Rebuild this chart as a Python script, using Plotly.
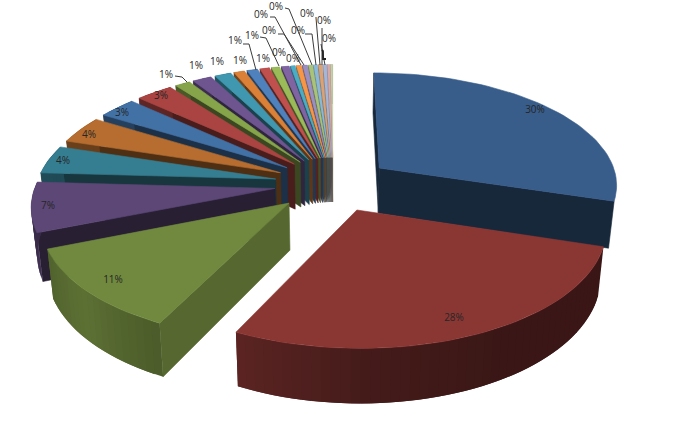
import math
import plotly.graph_objects as go

# ---- data (percent of the whole, clockwise from 12 o'clock) ----
values = [29.9, 27.6, 11.7, 7.0, 4.0, 3.9, 3.0, 2.9, 1.2, 1.5, 1.3, 0.85, 0.85, 0.75,
          0.64, 0.6, 0.35, 0.4, 0.38, 0.32, 0.3, 0.3, 0.28, 0.2, 0.17]
colors = ["#385d8a", "#8a3734", "#71893f", "#5c4776", "#357d91", "#b66d2f",
          "#4271a6", "#a94442", "#86a44a", "#6f5590", "#3f97b0", "#da8137",
          "#4f81bd", "#c0504d", "#9bbb59", "#8064a2", "#4bacc6", "#f79646",
          "#9a8fc0", "#a9c47a", "#8ab8d6", "#d9a277", "#a5b6d6", "#d6a8a6", "#c5cfa8"]
labels = ["30%", "28%", "11%", "7%", "4%", "4%", "3%", "3%", "1%", "1%", "1%", "1%", "1%",
          "1%", "1%", "0%", "0%", "0%", "0%", "0%", "0%", "0%", "0%", "0%", "0%"]

# ---- label layout ----
label_xy = [(535, 110), (454, 318), (113, 280), (48, 206), (63, 161), (89, 135), (122, 113), (161, 96),
            (166, 75), (196, 66), (217, 62), (240, 61), (263, 59), (235, 41), (252, 36),
            (279, 53), (293, 59), (269, 31), (298, 31), (261, 15), (276, 7), (307, 14), (324, 21), (329, 39)]
leaders = [[(175, 76), (182, 77), (187, 82)],
           [(243, 44), (249, 44), (256, 70)],
           [(260, 37), (266, 38), (279, 66)],
           [(278, 34), (284, 34), (304, 65)],
           [(270, 17), (275, 17), (301, 65)],
           [(285, 8), (289, 9), (312, 65)],
           [(305, 34), (312, 34), (316, 65)],
           [(316, 17), (316, 18), (320, 65)],
           [(322, 28), (322, 65)],
           [(321, 44), (325, 65)]]

# ---- projection ----
CX, CY = 333, 184
SX, SY = 239, 112
K = 0.135
EXPLODE = 0.245
DEPTH = 46
CONVERGE = 0.02


def project(U, V, bottom=False):
    w = 1 + K * V
    x = CX + SX * U / w
    y = CY - SY * V / w
    if bottom:
        x = CX + (x - CX) * (1 - CONVERGE)
        y = y + DEPTH / w
    return x, y


def scale(hex_color, f):
    r, g, b = (int(hex_color[i:i + 2], 16) for i in (1, 3, 5))
    return f"rgb({round(r * f)},{round(g * f)},{round(b * f)})"


def arc_shade(deg):
    pts = [(0, .42), (108, .42), (150, .42), (180, .50), (209, .68), (228, .82), (248, .72),
           (262, .62), (360, .5)]
    for (a, fa), (b, fb) in zip(pts, pts[1:]):
        if a <= deg <= b:
            return fa + (fb - fa) * (deg - a) / (b - a)
    return .5


fig = go.Figure()


def poly(points, color, edge=0.6):
    xs = [p[0] for p in points] + [points[0][0]]
    ys = [p[1] for p in points] + [points[0][1]]
    fig.add_trace(go.Scatter(x=xs, y=ys, mode="lines", fill="toself", fillcolor=color,
                             line=dict(color=color, width=edge), hoverinfo="skip", showlegend=False))


total = sum(values)
starts, c = [], 0.0
for v in values:
    starts.append(c)
    c += v


def draw(i):
    a0 = starts[i] / total * 360
    a1 = (starts[i] + values[i]) / total * 360
    mid = math.radians((a0 + a1) / 2)
    ou, ov = EXPLODE * math.sin(mid), EXPLODE * math.cos(mid)
    col = colors[i]

    def pt(deg, r=1.0):
        t = math.radians(deg)
        return ou + r * math.sin(t), ov + r * math.cos(t)

    n = max(2, int((a1 - a0) / 2) + 1)
    angs = [a0 + (a1 - a0) * j / (n - 1) for j in range(n)]
    # radial walls
    wall = 0.76 if i == 2 else 0.43

    def radial(a):
        poly([project(*pt(a, 0)), project(*pt(a)), project(*pt(a), True), project(*pt(a, 0), True)],
             scale(col, wall))

    if i == 0:
        radial(a0)
        radial(a1)
    elif a0 > 125:
        radial(a0)
    # outer wall, in bands that overlap the next one so that no seam shows
    if i != 0:
        for j in range(len(angs) - 1):
            p, q = angs[j], angs[min(j + 2, len(angs) - 1)]
            poly([project(*pt(p)), project(*pt(q)), project(*pt(q), True), project(*pt(p), True)],
                 scale(col, arc_shade((angs[j] + angs[j + 1]) / 2)), 0)
    # top face
    poly([project(*pt(a0, 0))] + [project(*pt(a)) for a in angs], col)


for i in list(range(len(values) - 1, 1, -1)) + [0, 1]:
    draw(i)

# leader lines
for line in leaders:
    fig.add_trace(go.Scatter(x=[p[0] for p in line], y=[p[1] for p in line], mode="lines",
                             line=dict(color="#3c3c3c", width=1), hoverinfo="skip", showlegend=False))
# overlapping glyph blob near the last labels
fig.add_trace(go.Scatter(x=[322, 323, 323, 326], y=[50, 51, 59, 59], mode="lines",
                         line=dict(color="#222222", width=1.8), hoverinfo="skip", showlegend=False))

# percentage labels
fig.add_trace(go.Scatter(x=[p[0] for p in label_xy], y=[p[1] for p in label_xy],
                         text=labels[:len(label_xy)], mode="text", textposition="middle center",
                         textfont=dict(family="Open Sans, Liberation Sans", size=10, color="#262626"),
                         hoverinfo="skip", showlegend=False))

fig.update_layout(width=688, height=441, margin=dict(l=0, r=0, t=0, b=0),
                  paper_bgcolor="white", plot_bgcolor="white", showlegend=False,
                  xaxis=dict(range=[0, 688], visible=False, fixedrange=True),
                  yaxis=dict(range=[441, 0], visible=False, fixedrange=True))
fig.write_html("out.html", config={"displayModeBar": False},
               post_script="document.body.style.margin='0';")
